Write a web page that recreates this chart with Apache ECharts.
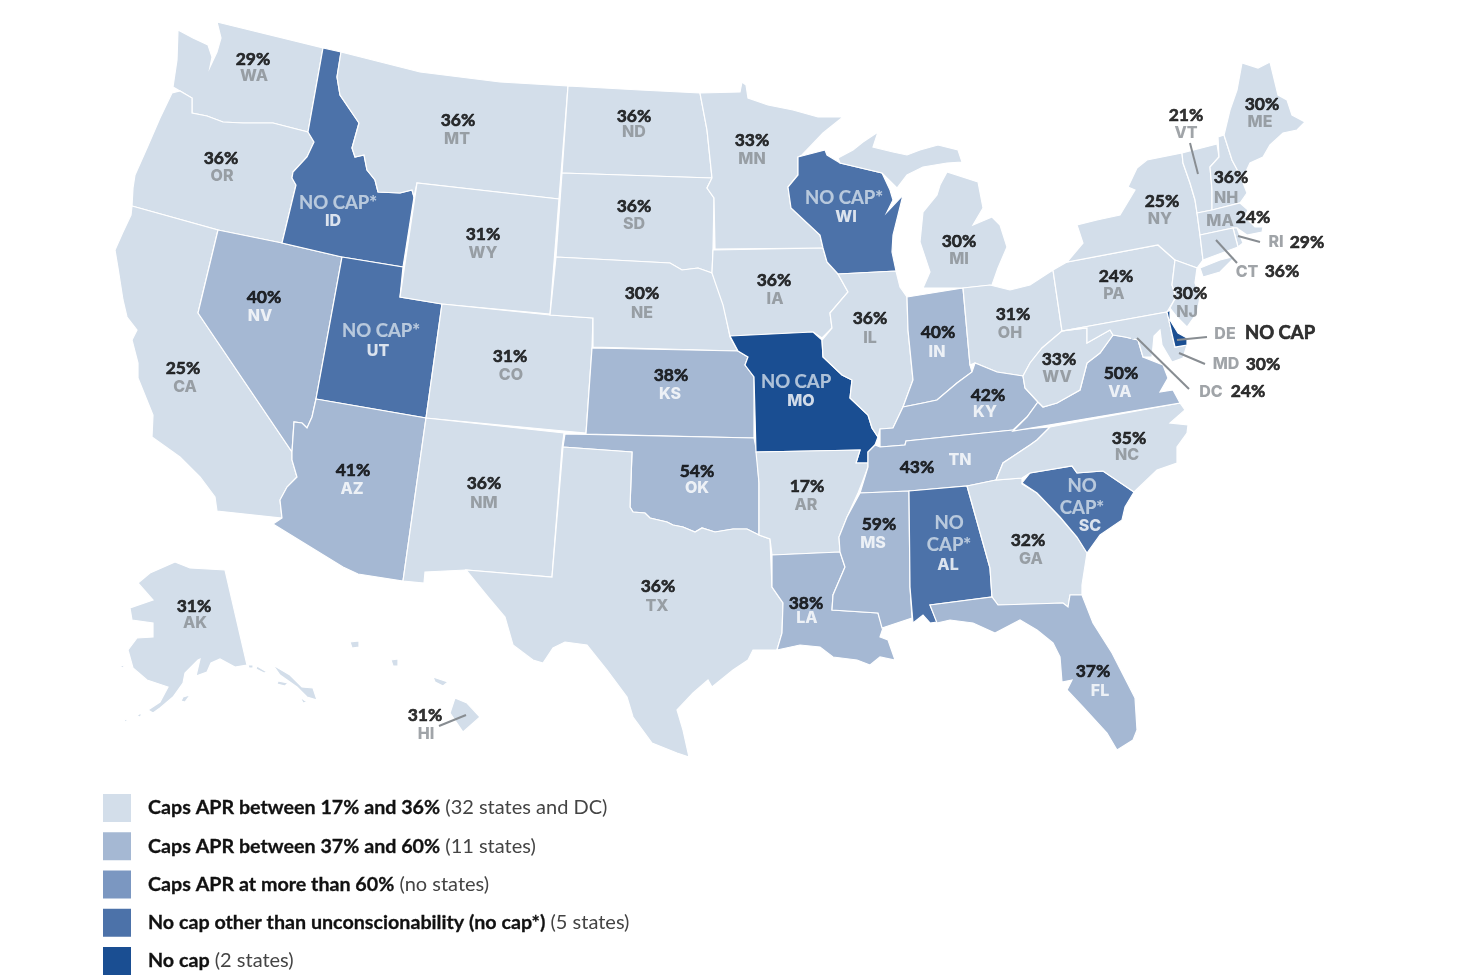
<!DOCTYPE html>
<html>
<head>
<meta charset="utf-8">
<title>State APR caps</title>
<script src="https://cdn.jsdelivr.net/npm/echarts@6/dist/echarts.min.js"></script>
<style>
  html, body { margin: 0; padding: 0; background: #fff; }
  #chart { width: 1474px; height: 977px; }
</style>
</head>
<body>
<div id="chart"></div>
<script>
// values
const stateCodes = ['WA','OR','CA','NV','ID','UT','AZ','MT','WY','CO','NM','ND','SD','NE','KS','OK','TX','MN','IA','MO','AR','LA','WI','IL','IN','MI','OH','KY','TN','MS','AL','GA','SC','FL','NC','VA','WV','PA','NY','NJ','VT','NH','ME','MA','RI','CT','MD','DC','DE','AK','HI'];
const capLabels = ['29%','36%','25%','40%','NO CAP*','NO CAP*','41%','36%','31%','31%','36%','36%','36%','30%','38%','54%','36%','33%','36%','NO CAP','17%','38%','NO CAP*','36%','40%','30%','31%','42%','43%','59%','NO\nCAP*','32%','NO\nCAP*','37%','35%','50%','33%','24%','25%','30%','21%','36%','30%','24%','29%','36%','30%','24%','NO CAP','31%','31%'];
// 0 = 17-36%, 1 = 37-60%, 2 = over 60%, 3 = no cap*, 4 = no cap
const capTiers = [0,0,0,1,3,3,1,0,0,0,0,0,0,0,1,1,0,0,0,4,0,1,3,0,1,0,0,1,1,1,3,0,3,1,0,1,0,0,0,0,0,0,0,0,0,0,0,0,4,0,0];
const tierBold = ['Caps APR between 17% and 36%','Caps APR between 37% and 60%','Caps APR at more than 60%','No cap other than unconscionability (no cap*)','No cap'];
const tierNote = ['(32 states and DC)','(11 states)','(no states)','(5 states)','(2 states)'];
const tierColors = ['#d3deea','#a5b8d3','#7b97c1','#4c72a9','#1a4e92'];

// outlines
const stateShapes = {
  WA: [[[178,30],[193,38],[208,45],[212,57],[210,67],[217,52],[221,38],[217,22],[323,48],[308,132],[273,123],[243,123],[223,122],[207,116],[192,113],[192,98],[180,91],[173,87],[177,60]]],
  OR: [[[172,93],[180,91],[192,98],[192,113],[207,116],[223,122],[243,123],[273,123],[308,132],[314,142],[307,157],[293,172],[292,178],[296,185],[282,243],[218,230],[132,206],[133,188],[135,175],[147,148],[160,118]]],
  CA: [[[132,206],[218,230],[198,313],[292,452],[292,460],[297,477],[287,487],[280,500],[282,518],[217,511],[215,497],[200,477],[180,457],[152,437],[153,415],[138,378],[138,363],[132,340],[137,330],[127,317],[123,300],[118,268],[115,250],[123,232],[131,215]]],
  NV: [[[218,230],[282,243],[342,257],[316,399],[312,417],[307,428],[302,423],[294,422],[292,452],[198,313]]],
  ID: [[[323,48],[341,52],[337,77],[340,95],[359,123],[352,148],[355,157],[364,155],[367,170],[375,180],[378,192],[400,193],[412,190],[414,197],[403,267],[342,257],[282,243],[296,185],[292,178],[293,172],[307,157],[314,142],[308,132]]],
  UT: [[[342,257],[403,267],[400,297],[442,304],[426,418],[316,399]]],
  AZ: [[[316,399],[426,418],[403,581],[358,574],[343,567],[273,524],[282,518],[280,500],[287,487],[297,477],[292,460],[292,452],[294,422],[302,423],[307,428],[312,417]]],
  MT: [[[341,52],[420,72],[500,82],[568,86],[559,199],[417,183],[414,197],[412,190],[400,193],[378,192],[375,180],[367,170],[364,155],[355,157],[352,148],[359,123],[340,95],[337,77]]],
  WY: [[[417,183],[559,199],[550,314],[442,304],[400,297]]],
  CO: [[[442,304],[550,315],[593,318],[592,348],[586,433],[564,431],[426,418]]],
  NM: [[[426,418],[564,433],[562,448],[552,577],[466,570],[425,572],[424,583],[403,581]]],
  ND: [[[568,86],[640,90],[700,93],[707,130],[712,178],[562,173]]],
  SD: [[[562,173],[712,178],[707,188],[714,198],[713,250],[712,273],[698,268],[682,270],[670,263],[556,257]]],
  NE: [[[556,257],[670,263],[682,270],[698,268],[712,273],[722,297],[730,337],[738,351],[593,347],[593,318],[550,315]]],
  KS: [[[592,348],[738,351],[748,357],[745,365],[754,377],[754,438],[586,434]]],
  OK: [[[565,434],[754,438],[757,453],[759,483],[759,535],[747,529],[733,529],[715,532],[702,528],[695,532],[683,527],[673,525],[667,522],[650,518],[645,513],[633,512],[630,507],[632,452],[563,447]]],
  TX: [[[563,447],[632,452],[630,507],[633,512],[645,513],[650,518],[667,522],[673,525],[683,527],[695,532],[702,528],[715,532],[733,529],[747,529],[759,535],[770,539],[772,587],[783,603],[782,633],[777,650],[753,650],[748,660],[733,670],[712,687],[708,680],[693,693],[677,710],[683,730],[689,757],[677,753],[652,743],[633,717],[627,697],[607,670],[587,645],[565,642],[553,648],[543,663],[533,660],[513,645],[505,617],[488,597],[466,570],[552,577]]],
  MN: [[[700,93],[740,92],[742,82],[746,85],[748,98],[768,105],[793,110],[818,117],[843,117],[823,133],[802,155],[798,157],[798,175],[788,187],[791,208],[820,235],[823,248],[715,249],[714,198],[707,188],[712,178],[707,130]]],
  WI: [[[798,157],[825,150],[827,155],[840,163],[882,173],[890,190],[893,200],[887,212],[903,195],[893,235],[892,252],[896,271],[838,274],[827,262],[823,248],[820,235],[791,208],[788,187],[798,175]]],
  MI: [[[838,158],[853,150],[863,142],[878,132],[873,147],[893,152],[907,155],[920,150],[938,145],[958,150],[962,162],[947,163],[923,167],[907,175],[897,188],[882,173],[840,163]],
       [[947,172],[978,182],[983,208],[973,225],[992,217],[1000,225],[1007,247],[998,268],[992,285],[963,288],[923,288],[930,272],[920,242],[923,212],[937,195],[940,185]]],
  IA: [[[713,250],[823,248],[827,262],[838,274],[848,292],[830,313],[832,328],[822,338],[813,332],[730,336],[723,305],[715,282],[712,273]]],
  MO: [[[730,336],[813,332],[822,340],[823,357],[842,375],[852,380],[850,398],[868,415],[872,428],[878,437],[875,445],[868,452],[868,463],[856,463],[860,450],[756,452],[754,377],[745,365],[748,357],[738,351]]],
  AR: [[[756,452],[860,450],[856,463],[868,463],[868,467],[862,483],[858,493],[847,517],[839,537],[840,552],[772,555],[770,539],[759,535],[759,483]]],
  LA: [[[772,555],[840,552],[845,567],[833,595],[832,610],[878,613],[883,628],[880,637],[888,640],[895,660],[880,657],[870,665],[857,660],[833,657],[820,647],[800,645],[777,650],[782,633],[783,603],[772,587]]],
  IL: [[[838,274],[896,271],[900,287],[907,297],[908,330],[913,380],[903,407],[893,428],[880,429],[878,437],[872,428],[868,415],[850,398],[852,380],[842,375],[823,357],[822,340],[832,328],[830,313],[848,292]]],
  IN: [[[907,297],[963,288],[970,365],[972,372],[957,383],[937,400],[923,403],[903,407],[913,380],[908,330]]],
  OH: [[[963,288],[990,285],[1010,290],[1030,285],[1053,270],[1062,331],[1042,348],[1030,363],[1023,376],[997,372],[975,363],[970,365]]],
  KY: [[[880,429],[893,428],[903,407],[923,403],[937,400],[957,383],[972,372],[975,363],[997,372],[1023,376],[1025,388],[1038,402],[1027,417],[1013,430],[906,441],[905,445],[880,447]]],
  TN: [[[880,447],[905,445],[906,441],[1013,430],[1050,427],[1037,440],[1030,445],[1003,463],[996,480],[967,486],[909,491],[860,493],[868,467],[868,463],[868,452],[875,445]]],
  MS: [[[860,493],[909,491],[910,587],[912,618],[882,628],[878,613],[832,610],[833,595],[845,567],[840,552],[839,537],[847,517]]],
  AL: [[[909,491],[967,486],[990,568],[992,597],[930,605],[937,622],[930,623],[923,615],[913,623],[910,587]]],
  GA: [[[967,486],[996,480],[1022,478],[1022,484],[1037,493],[1060,517],[1077,537],[1087,553],[1082,585],[1082,595],[1070,595],[1068,607],[1063,603],[998,605],[992,597],[990,568]]],
  SC: [[[1022,483],[1030,473],[1072,466],[1077,473],[1103,471],[1134,492],[1125,507],[1122,520],[1100,535],[1087,553],[1077,537],[1060,517],[1037,493]]],
  FL: [[[930,605],[992,597],[998,605],[1063,603],[1068,607],[1070,595],[1082,595],[1093,623],[1112,653],[1135,698],[1137,730],[1133,740],[1117,750],[1107,733],[1083,707],[1067,690],[1072,680],[1062,682],[1060,657],[1053,643],[1037,630],[1020,620],[995,633],[973,623],[950,620],[937,623]]],
  NC: [[[1050,427],[1180,403],[1185,410],[1170,423],[1188,425],[1187,433],[1177,447],[1177,463],[1157,470],[1134,492],[1103,471],[1077,473],[1072,466],[1030,473],[1022,478],[996,480],[1003,463],[1030,445],[1037,440]]],
  VA: [[[1013,431],[1027,417],[1038,402],[1043,407],[1057,403],[1080,390],[1087,363],[1100,353],[1113,335],[1125,337],[1138,340],[1143,357],[1163,365],[1168,378],[1160,392],[1173,390],[1180,403]]],
  WV: [[[1062,331],[1087,328],[1087,343],[1110,330],[1113,335],[1100,353],[1087,363],[1080,390],[1057,403],[1043,407],[1038,402],[1025,388],[1023,376],[1030,363],[1042,348]]],
  PA: [[[1053,270],[1067,262],[1158,245],[1175,260],[1172,285],[1176,297],[1167,312],[1062,331]]],
  NY: [[[1067,262],[1083,243],[1077,225],[1097,220],[1120,215],[1135,190],[1128,187],[1137,168],[1147,160],[1182,153],[1183,163],[1190,183],[1195,200],[1197,213],[1200,235],[1203,260],[1197,268],[1175,260],[1158,245]],
       [[1200,268],[1220,260],[1236,256],[1220,272],[1203,277]]],
  NJ: [[[1175,260],[1197,268],[1195,283],[1200,297],[1197,313],[1187,327],[1177,317],[1170,308],[1176,297],[1172,285]]],
  VT: [[[1182,153],[1217,144],[1219,157],[1210,167],[1212,190],[1212,210],[1197,213],[1195,200],[1190,183],[1183,163]]],
  NH: [[[1218,137],[1224,135],[1232,160],[1240,175],[1247,193],[1240,203],[1212,210],[1212,190],[1210,167],[1219,157]]],
  ME: [[[1224,135],[1230,110],[1237,90],[1242,63],[1258,68],[1270,62],[1278,95],[1287,100],[1292,115],[1305,122],[1297,130],[1283,133],[1270,145],[1263,157],[1250,163],[1243,178],[1240,175],[1232,160]]],
  MA: [[[1197,213],[1212,210],[1240,203],[1248,210],[1245,217],[1255,227],[1263,227],[1262,232],[1247,235],[1237,228],[1233,228],[1200,235]]],
  RI: [[[1233,228],[1237,228],[1243,243],[1238,247]]],
  CT: [[[1200,235],[1233,228],[1238,247],[1203,260]]],
  MD: [[[1062,331],[1167,312],[1175,347],[1187,345],[1183,358],[1172,362],[1162,345],[1160,330],[1154,336],[1152,357],[1143,357],[1138,340],[1125,337],[1113,335],[1110,330],[1087,343],[1087,328]]],
  DC: [[[1131,336],[1134,336],[1134,339],[1131,339]]],
  DE: [[[1167,312],[1170,310],[1170,320],[1178,333],[1187,338],[1187,345],[1175,347]]],
  AK: [[[175,562],[190,568],[225,570],[247,665],[235,667],[220,659],[211,663],[207,672],[196,676],[200,659],[198,660],[185,673],[183,683],[173,697],[160,708],[153,713],[148,710],[160,702],[168,687],[147,680],[133,668],[128,650],[137,638],[153,637],[153,623],[132,620],[130,608],[153,600],[138,583],[150,573]],
       [[273,665],[290,675],[302,687],[313,688],[317,700],[307,697],[297,687],[280,675]],
       [[257,666],[267,672],[264,673],[256,669]],
       [[248,665],[253,665],[253,668],[249,668]],
       [[278,681],[288,683],[285,686],[277,684]],
       [[300,697],[307,702],[303,703]],
       [[190,695],[185,702],[181,701],[183,697]],
       [[125,719],[128,721],[124,722]],
       [[139,714],[142,714],[140,717],[137,716]],
       [[120,665],[125,666],[122,668]]],
  HI: [[[455,698],[467,703],[480,717],[463,732],[450,713]],
       [[433,677],[448,682],[443,686],[435,682]],
       [[391,660],[398,659],[398,666],[393,666]],
       [[350,642],[359,641],[359,647],[352,648]]]
};

// label anchor points: percent text, then state code
const pctAnchors = {WA:[253,59],OR:[221,158],CA:[183,368],NV:[264,297],ID:[338,203],UT:[381,331],AZ:[353,470],MT:[458,120],WY:[483,234],CO:[510,356],NM:[484,483],ND:[634,116],SD:[634,206],NE:[642,293],KS:[671,375],OK:[697,471],TX:[658,586],MN:[752,140],IA:[774,280],MO:[796,382],AR:[807,486],LA:[806,603],WI:[844,198],IL:[870,318],IN:[938,332],MI:[959,241],OH:[1013,314],KY:[988,395],TN:[917,467],MS:[879,524],AL:[949,534],GA:[1028,540],SC:[1082,497],FL:[1093,671],NC:[1129,438],VA:[1121,373],WV:[1059,359],PA:[1116,276],NY:[1162,201],NJ:[1190,293],VT:[1186,115],NH:[1231,177],ME:[1262,104],MA:[1253,217],RI:[1307,242],CT:[1282,271],DE:[1280,333],MD:[1263,364],DC:[1248,391],AK:[194,606],HI:[425,715]};
const codeAnchors = {WA:[254,76],OR:[222,176],CA:[185,387],NV:[260,316],ID:[333,221],UT:[378,351],AZ:[352,489],MT:[457,139],WY:[483,253],CO:[511,375],NM:[484,503],ND:[634,132],SD:[634,224],NE:[642,313],KS:[670,394],OK:[697,488],TX:[657,606],MN:[752,159],IA:[775,299],MO:[801,401],AR:[806,505],LA:[807,618],WI:[846,217],IL:[870,338],IN:[937,352],MI:[959,259],OH:[1010,333],KY:[985,412],TN:[960,460],MS:[873,543],AL:[948,565],GA:[1031,559],SC:[1090,526],FL:[1100,691],NC:[1127,455],VA:[1120,392],WV:[1057,377],PA:[1114,294],NY:[1160,219],NJ:[1187,312],VT:[1186,133],NH:[1226,198],ME:[1260,122],MA:[1220,221],RI:[1276,242],CT:[1247,272],DE:[1225,334],MD:[1226,364],DC:[1211,392],AK:[195,623],HI:[426,734]};
const leaderLines = [[[1190,143],[1198,174]],[[1238,236],[1260,242]],[[1216,240],[1237,263]],[[1177,340],[1207,337]],[[1179,353],[1205,364]],[[1137,338],[1189,389]],[[439,726],[466,715]]];

const labelFont = 'Lato';
const codeFont = 'Inter';
const greyText = '#888d92';

function ringsToFeature(code) {
  let rings = stateShapes[code].map(r => [r.concat([r[0]])]);
  return {
    type: 'Feature',
    properties: { name: code },
    geometry: { type: 'MultiPolygon', coordinates: rings }
  };
}

echarts.registerMap('usa', {
  type: 'FeatureCollection',
  features: stateCodes.map(ringsToFeature)
});

let chart = echarts.init(document.getElementById('chart'), null, { renderer: 'canvas' });

let pieces = tierBold.map((t, i) => ({
  value: i,
  label: '{b|' + t + '} {r|' + tierNote[i] + '}',
  color: tierColors[i]
}));

let pctData = stateCodes.map((c, i) => {
  let isNoCap = capLabels[i].indexOf('NO') === 0;
  let onMap = isNoCap && c !== 'DE';
  let textColor = onMap ? '#d3deea' : '#000';
  return {
    value: pctAnchors[c],
    label: {
      formatter: capLabels[i],
      color: textColor,
      textBorderColor: textColor,
      textBorderWidth: onMap ? 0.2 : 0.6,
      fontSize: isNoCap ? 18.5 : 17.5
    }
  };
});
let codeData = stateCodes.map((c, i) => ({
  value: codeAnchors[c],
  label: {
    formatter: c,
    color: capTiers[i] > 0 && c !== 'DE' ? '#fff' : greyText
  }
}));

chart.setOption({
  animation: false,
  backgroundColor: '#fff',
  textStyle: { fontFamily: labelFont },
  visualMap: {
    type: 'piecewise',
    seriesIndex: 0,
    left: 103,
    top: 794,
    orient: 'vertical',
    inverse: true,
    itemWidth: 28,
    itemHeight: 28,
    itemGap: 10.25,
    itemSymbol: 'rect',
    textGap: 17,
    padding: 0,
    selectedMode: false,
    pieces: pieces,
    textStyle: {
      fontFamily: labelFont,
      fontSize: 20,
      color: '#111',
      rich: {
        b: { fontFamily: labelFont, fontSize: 19.7, fontWeight: 700, color: '#111', textBorderColor: '#111', textBorderWidth: 0.3 },
        r: { fontFamily: labelFont, fontSize: 20, fontWeight: 400, color: '#444' }
      }
    }
  },
  geo: {
    map: 'usa',
    roam: false,
    silent: true,
    left: 0,
    top: 0,
    width: 1474,
    height: 977,
    boundingCoords: [[0, 0], [1474, 977]],
    projection: {
      project: p => p,
      unproject: p => p
    },
    label: { show: false },
    itemStyle: { areaColor: tierColors[0], borderColor: '#fff', borderWidth: 1.2 },
    regions: [{ name: 'DC', itemStyle: { borderWidth: 0 } }],
    emphasis: { disabled: true }
  },
  series: [
    {
      type: 'map',
      geoIndex: 0,
      silent: true,
      data: stateCodes.map((c, i) => ({ name: c, value: capTiers[i] }))
    },
    {
      type: 'lines',
      coordinateSystem: 'geo',
      silent: true,
      lineStyle: { color: greyText, width: 2, opacity: 1, curveness: 0 },
      data: leaderLines.map(l => ({ coords: l }))
    },
    {
      type: 'scatter',
      coordinateSystem: 'geo',
      silent: true,
      symbolSize: 0,
      z: 5,
      label: { show: true, position: 'inside', fontFamily: labelFont, fontWeight: 700, lineHeight: 22 },
      data: pctData
    },
    {
      type: 'scatter',
      coordinateSystem: 'geo',
      silent: true,
      symbolSize: 0,
      z: 5,
      label: { show: true, position: 'inside', fontFamily: codeFont, fontSize: 16, fontWeight: 800 },
      data: codeData
    }
  ]
});
</script>
</body>
</html>
